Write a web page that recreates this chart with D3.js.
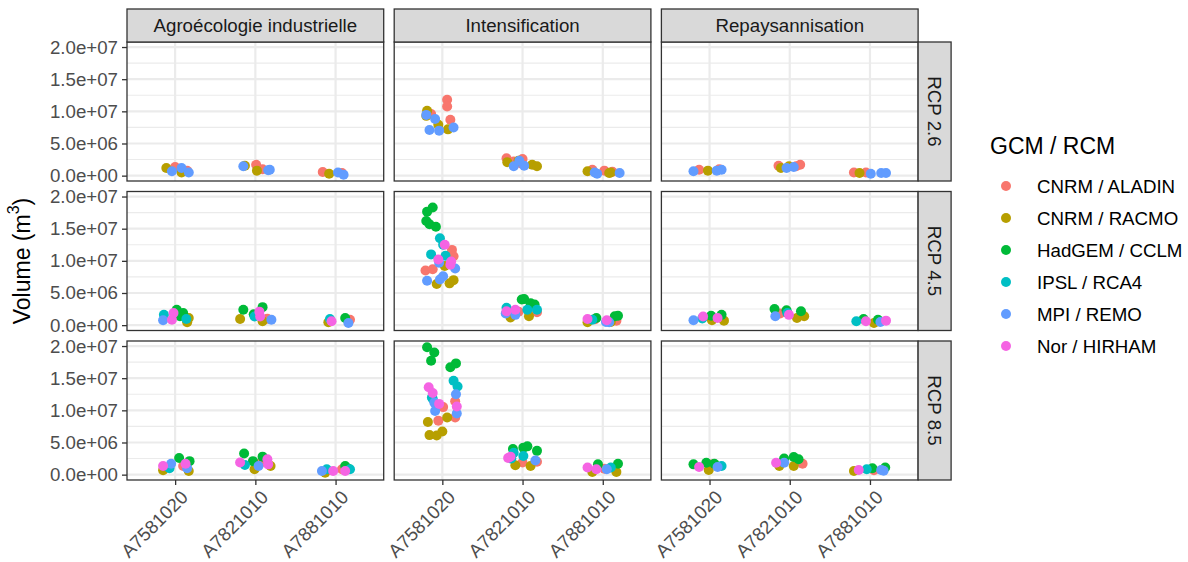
<!DOCTYPE html>
<html>
<head>
<meta charset="utf-8">
<script src="https://cdn.jsdelivr.net/npm/d3@7"></script>
<style>
  body { margin: 0; background: #fff; }
  text { font-family: "Liberation Sans", Arial, sans-serif; }
</style>
</head>
<body>
<svg id="chart"></svg>
<script>
const scenarios = ['Agroécologie industrielle', 'Intensification', 'Repaysannisation'];
const rcps = ['RCP 2.6', 'RCP 4.5', 'RCP 8.5'];
const stations = ['A7581020', 'A7821010', 'A7881010'];
const models = ['CNRM / ALADIN', 'CNRM / RACMO', 'HadGEM / CCLM', 'IPSL / RCA4', 'MPI / REMO', 'Nor / HIRHAM'];
const yTicks = [0, 5e6, 1e7, 1.5e7, 2e7];
const yTickLabels = ['0.0e+00', '5.0e+06', '1.0e+07', '1.5e+07', '2.0e+07'];

// rcp, station, model, jitter (category units), volume (millions of m3)
const agroPoints = [
  [0,0,1,-0.11,1.2],[0,0,1,0.08,0.5],[0,0,0,0.0,1.35],[0,0,0,0.15,0.75],[0,0,4,0.08,1.2],[0,0,4,-0.04,0.67],[0,0,4,0.17,0.5],
  [0,1,0,0.01,1.7],[0,1,0,0.09,1.0],[0,1,1,-0.13,1.55],[0,1,1,0.02,0.78],[0,1,4,-0.15,1.45],[0,1,4,0.18,0.93],[0,1,4,0.16,0.85],
  [0,2,0,-0.16,0.57],[0,2,0,0.08,0.4],[0,2,1,-0.08,0.3],[0,2,4,0.03,0.5],[0,2,4,0.1,0.15],
  [1,0,3,-0.14,1.6],[1,0,3,0.14,0.95],[1,0,2,0.02,2.4],[1,0,2,0.06,1.4],[1,0,2,0.1,1.9],[1,0,5,-0.02,1.9],[1,0,5,-0.04,0.85],
  [1,0,0,0.1,1.5],[1,0,1,0.17,1.1],[1,0,1,0.15,0.44],[1,0,4,-0.15,0.75],
  [1,1,2,-0.15,2.4],[1,1,2,0.09,2.8],[1,1,2,-0.02,1.7],[1,1,1,-0.19,0.95],[1,1,1,0.09,0.6],[1,1,5,0.06,1.35],[1,1,5,0.05,2.1],
  [1,1,0,0.15,1.0],[1,1,4,0.2,0.85],[1,1,3,-0.01,1.35],
  [1,2,1,-0.09,0.44],[1,2,5,-0.05,0.6],[1,2,2,0.12,1.1],[1,2,4,0.16,0.34],[1,2,0,0.18,0.85],[1,2,3,-0.07,0.95],
  [2,0,2,0.05,2.6],[2,0,2,0.18,2.1],[2,0,5,-0.15,1.35],[2,0,5,0.13,1.7],[2,0,4,-0.05,1.7],[2,0,4,0.15,1.0],[2,0,3,-0.07,1.0],
  [2,0,1,-0.15,0.67],[2,0,1,0.17,0.57],[2,0,0,0.1,1.35],
  [2,1,2,-0.14,3.3],[2,1,2,0.09,2.8],[2,1,2,-0.03,2.1],[2,1,3,-0.13,1.5],[2,1,5,-0.19,1.9],[2,1,5,0.15,2.4],[2,1,5,0.16,1.6],
  [2,1,1,-0.01,0.83],[2,1,1,0.19,1.35],[2,1,4,0.04,1.35],[2,1,0,0.07,1.9],
  [2,2,4,-0.17,0.57],[2,2,3,-0.11,0.83],[2,2,1,-0.13,0.3],[2,2,5,-0.03,0.57],[2,2,0,0.08,0.83],[2,2,2,0.16,0.93],
  [2,2,2,0.12,1.35],[2,2,3,0.18,0.83],[2,2,5,0.12,0.57]
];

const intensPoints = [
  [0,0,0,0.06,11.8],[0,0,0,0.06,10.75],[0,0,0,0.1,8.7],[0,0,0,-0.14,9.6],[0,0,1,-0.19,10.1],[0,0,1,-0.2,9.3],[0,0,1,-0.05,7.9],
  [0,0,1,0.07,7.2],[0,0,4,-0.2,9.45],[0,0,4,-0.09,8.8],[0,0,4,-0.16,7.1],[0,0,4,-0.04,7.0],[0,0,4,0.14,7.5],
  [0,1,0,-0.2,2.7],[0,1,0,0.0,2.6],[0,1,0,-0.02,1.9],[0,1,0,-0.11,2.2],[0,1,1,-0.19,2.1],[0,1,1,0.12,1.7],[0,1,1,0.18,1.45],
  [0,1,1,-0.05,2.3],[0,1,4,-0.11,1.45],[0,1,4,0.02,1.55],[0,1,4,-0.04,2.3],
  [0,2,1,-0.19,0.67],[0,2,1,0.08,0.4],[0,2,1,0.1,0.5],[0,2,0,-0.13,0.93],[0,2,0,0.02,0.78],[0,2,0,0.12,0.6],[0,2,4,-0.1,0.5],
  [0,2,4,-0.07,0.3],[0,2,4,0.21,0.4],
  [1,0,0,0.12,11.7],[1,0,0,0.14,10.7],[1,0,0,-0.21,8.5],[1,0,0,-0.12,8.7],
  [1,0,1,0.03,9.2],[1,0,1,-0.07,6.4],[1,0,1,0.09,6.5],[1,0,1,0.14,7.0],
  [1,0,2,-0.12,18.3],[1,0,2,-0.19,17.65],[1,0,2,-0.2,16.2],[1,0,2,-0.16,15.7],[1,0,2,-0.08,15.3],
  [1,0,3,-0.03,13.5],[1,0,3,0.01,12.5],[1,0,3,-0.14,11.0],[1,0,3,0.04,10.8],
  [1,0,4,-0.04,9.7],[1,0,4,0.16,8.8],[1,0,4,-0.19,6.9],[1,0,4,-0.03,7.1],[1,0,4,0.01,7.6],
  [1,0,5,0.03,12.5],[1,0,5,-0.05,10.2],[1,0,5,0.11,9.9],[1,0,5,0.1,9.4],
  [1,1,2,-0.01,4.0],[1,1,2,0.02,4.05],[1,1,2,0.1,3.4],[1,1,2,0.15,3.2],[1,1,3,-0.2,2.7],[1,1,3,0.06,2.4],[1,1,3,0.18,2.4],
  [1,1,5,-0.2,2.15],[1,1,5,-0.09,2.4],[1,1,0,0.18,2.0],[1,1,0,-0.05,2.1],[1,1,4,-0.09,1.6],[1,1,4,-0.21,1.8],
  [1,1,1,-0.15,1.2],[1,1,1,0.08,1.4],
  [1,2,2,-0.08,1.1],[1,2,2,0.15,1.37],[1,2,2,0.19,1.45],[1,2,5,-0.19,0.95],[1,2,5,0.05,0.75],[1,2,1,-0.19,0.44],[1,2,1,0.1,0.5],
  [1,2,4,0.04,0.5],[1,2,4,0.08,0.45],[1,2,0,0.17,0.7],[1,2,0,-0.1,0.9],[1,2,3,-0.13,0.85],
  [2,0,0,0.01,10.5],[2,0,0,0.16,11.4],[2,0,0,-0.05,8.4],[2,0,0,0.16,8.9],
  [2,0,1,-0.18,8.2],[2,0,1,0.06,8.9],[2,0,1,-0.16,6.15],[2,0,1,-0.07,6.1],[2,0,1,0.0,6.7],
  [2,0,2,-0.19,19.8],[2,0,2,-0.1,19.0],[2,0,2,-0.14,17.7],[2,0,2,0.1,16.7],[2,0,2,0.17,17.3],
  [2,0,3,0.14,14.6],[2,0,3,0.19,13.7],[2,0,3,-0.12,11.8],[2,0,3,-0.13,12.0],
  [2,0,4,0.17,12.5],[2,0,4,-0.09,9.9],[2,0,4,0.18,9.5],[2,0,4,-0.1,11.2],
  [2,0,5,-0.17,13.6],[2,0,5,-0.12,12.7],[2,0,5,0.18,10.6],[2,0,5,-0.04,11.0],
  [2,1,2,-0.12,4.0],[2,1,2,0.01,4.2],[2,1,2,0.06,4.4],[2,1,2,0.18,3.7],[2,1,3,-0.11,3.4],[2,1,3,0.01,2.9],[2,1,3,-0.14,2.5],
  [2,1,5,-0.18,2.6],[2,1,5,-0.15,2.8],[2,1,0,0.18,2.0],[2,1,0,0.0,1.9],[2,1,4,0.16,2.2],[2,1,1,-0.09,1.45],[2,1,1,0.1,1.35],
  [2,2,2,-0.06,1.6],[2,2,2,0.19,1.7],[2,2,3,0.1,1.1],[2,2,5,-0.19,1.1],[2,2,5,-0.08,0.85],[2,2,4,0.05,0.83],
  [2,2,1,-0.13,0.4],[2,2,1,0.17,0.4],[2,2,0,0.02,0.93]
];

const repayPoints = [
  [0,0,4,-0.2,0.67],[0,0,4,0.09,0.78],[0,0,4,0.15,0.93],[0,0,0,-0.13,0.93],[0,0,0,0.12,1.0],[0,0,1,-0.02,0.78],
  [0,1,0,-0.14,1.55],[0,1,0,0.08,1.45],[0,1,0,0.13,1.7],[0,1,1,-0.11,1.2],[0,1,1,-0.01,1.45],[0,1,4,-0.04,1.2],[0,1,4,0.05,1.35],
  [0,2,0,-0.2,0.5],[0,2,0,-0.05,0.5],[0,2,1,-0.13,0.4],[0,2,4,0.01,0.3],[0,2,4,0.14,0.4],[0,2,4,0.2,0.4],
  [1,0,4,-0.2,0.75],[1,0,3,-0.09,1.05],[1,0,5,-0.08,1.35],[1,0,5,0.1,1.1],[1,0,2,0.02,1.47],[1,0,2,0.15,1.6],
  [1,0,1,0.03,0.75],[1,0,1,0.18,0.7],
  [1,1,2,-0.19,2.5],[1,1,2,-0.04,2.3],[1,1,2,0.14,2.15],[1,1,5,-0.01,1.6],[1,1,4,-0.18,1.37],[1,1,1,0.09,1.1],
  [1,1,1,0.18,1.37],[1,1,0,-0.12,1.8],[1,1,3,-0.03,1.9],
  [1,2,3,-0.17,0.6],[1,2,5,-0.05,0.6],[1,2,5,0.2,0.7],[1,2,2,-0.08,0.95],[1,2,2,0.1,0.85],[1,2,1,0.05,0.34],[1,2,4,0.13,0.5],
  [2,0,2,-0.2,1.6],[2,0,2,-0.04,1.85],[2,0,2,0.06,1.7],[2,0,5,-0.13,1.2],[2,0,1,-0.01,0.72],[2,0,0,0.04,1.6],
  [2,0,4,0.1,1.2],[2,0,3,0.15,1.35],
  [2,1,5,-0.17,1.85],[2,1,2,-0.07,2.5],[2,1,2,0.05,2.75],[2,1,2,0.11,2.4],[2,1,4,-0.07,1.85],[2,1,1,0.05,1.35],
  [2,1,1,-0.13,1.35],[2,1,0,0.16,1.7],
  [2,2,1,-0.2,0.57],[2,2,5,-0.14,0.72],[2,2,3,-0.04,0.83],[2,2,0,0.05,0.67],[2,2,2,0.03,1.0],[2,2,2,0.19,1.1],
  [2,2,4,0.14,0.72],[2,2,4,0.17,0.6]
];

const W = 1188, H = 562;
const panelLeft = 127, panelTop = 42, pw = 256.7, ph = 139, gap = 10.5, stripSize = 33;
const border = '#333333', gridCol = '#EBEBEB';
const fontSmall = 18.7, fontTitle = 23;

const svg = d3.select('#chart').attr('width', W).attr('height', H);

const panelPoints = [agroPoints, intensPoints, repayPoints];
const [lo, hi] = d3.extent(panelPoints.flat(), d => d[4] * 1e6);
const pad = (hi - lo) * 0.05;

const y = d3.scaleLinear().domain([lo - pad, hi + pad]).range([ph, 0]);
const x = d3.scalePoint().domain(stations).range([0, pw]).padding(0.6);
const color = d3.scaleOrdinal()
  .domain(models)
  .range(['#F8766D', '#B79F00', '#00BA38', '#00BFC4', '#619CFF', '#F564E3']);

const minorTicks = yTicks.slice(1).map((t, i) => (t + yTicks[i]) / 2);

for (let c = 0; c < scenarios.length; c++) {
  for (let r = 0; r < rcps.length; r++) {
    const g = svg.append('g')
      .attr('transform', `translate(${panelLeft + c * (pw + gap)},${panelTop + r * (ph + gap)})`);

    g.append('rect').attr('width', pw).attr('height', ph).attr('fill', '#fff');

    g.selectAll('.minor').data(minorTicks).enter().append('line')
      .attr('x1', 0).attr('x2', pw)
      .attr('y1', d => y(d)).attr('y2', d => y(d))
      .attr('stroke', gridCol).attr('stroke-width', 1.1);

    g.selectAll('.majory').data(yTicks).enter().append('line')
      .attr('x1', 0).attr('x2', pw)
      .attr('y1', d => y(d)).attr('y2', d => y(d))
      .attr('stroke', gridCol).attr('stroke-width', 2.2);

    g.selectAll('.majorx').data(stations).enter().append('line')
      .attr('x1', d => x(d)).attr('x2', d => x(d))
      .attr('y1', 0).attr('y2', ph)
      .attr('stroke', gridCol).attr('stroke-width', 2.2);

    const pts = panelPoints[c].filter(d => d[0] === r).sort((a, b) => a[2] - b[2]);
    g.selectAll('circle').data(pts).enter().append('circle')
      .attr('cx', d => x(stations[d[1]]) + d[3] * x.step())
      .attr('cy', d => y(d[4] * 1e6))
      .attr('r', 5)
      .attr('fill', d => color(models[d[2]]));

    g.append('rect').attr('width', pw).attr('height', ph)
      .attr('fill', 'none').attr('stroke', border).attr('stroke-width', 1.3);

    if (c === 0) {
      const ax = g.append('g').call(d3.axisLeft(y).tickValues(yTicks)
        .tickFormat((d, i) => yTickLabels[i]).tickSize(5).tickPadding(4));
      ax.select('.domain').remove();
      ax.selectAll('line').attr('stroke', border).attr('stroke-width', 1.3);
      ax.selectAll('text').attr('fill', '#4D4D4D').attr('font-size', fontSmall)
        .attr('font-family', '"Liberation Sans", Arial, sans-serif');
    }

    if (r === rcps.length - 1) {
      const ax = g.append('g').attr('transform', `translate(0,${ph})`)
        .call(d3.axisBottom(x).tickSize(5));
      ax.select('.domain').remove();
      ax.selectAll('line').attr('stroke', border).attr('stroke-width', 1.3);
      ax.selectAll('text')
        .attr('fill', '#4D4D4D').attr('font-size', fontSmall)
        .attr('font-family', '"Liberation Sans", Arial, sans-serif')
        .attr('text-anchor', 'end')
        .attr('x', 0).attr('y', 0).attr('dy', '0.72em')
        .attr('transform', 'translate(4,9) rotate(-45)');
    }

    if (r === 0) {
      g.append('rect').attr('y', -stripSize).attr('width', pw).attr('height', stripSize)
        .attr('fill', '#D9D9D9').attr('stroke', border).attr('stroke-width', 1.3);
      g.append('text').attr('x', pw / 2).attr('y', -stripSize / 2)
        .attr('text-anchor', 'middle').attr('dominant-baseline', 'central')
        .attr('font-size', fontSmall).attr('fill', '#1A1A1A')
        .text(scenarios[c]);
    }

    if (c === scenarios.length - 1) {
      g.append('rect').attr('x', pw).attr('width', stripSize).attr('height', ph)
        .attr('fill', '#D9D9D9').attr('stroke', border).attr('stroke-width', 1.3);
      g.append('text')
        .attr('transform', `translate(${pw + stripSize / 2},${ph / 2}) rotate(90)`)
        .attr('text-anchor', 'middle').attr('dominant-baseline', 'central')
        .attr('font-size', fontSmall).attr('fill', '#1A1A1A')
        .text(rcps[r]);
    }
  }
}

// y axis title
const yTitle = svg.append('text')
  .attr('transform', `translate(22,${panelTop + (3 * ph + 2 * gap) / 2}) rotate(-90)`)
  .attr('text-anchor', 'middle').attr('dominant-baseline', 'central')
  .attr('font-size', fontTitle).attr('fill', '#000');
yTitle.append('tspan').text('Volume (m');
yTitle.append('tspan').attr('baseline-shift', 'super').attr('font-size', 16).text('3');
yTitle.append('tspan').text(')');

// legend
const legend = svg.append('g').attr('transform', 'translate(990,146)');
legend.append('text').attr('dominant-baseline', 'central')
  .attr('font-size', fontTitle).attr('fill', '#000').text('GCM / RCM');

const item = legend.selectAll('.item').data(models).enter().append('g')
  .attr('transform', (d, i) => `translate(0,${40 + i * 32})`);
item.append('circle').attr('cx', 16).attr('r', 5).attr('fill', d => color(d));
item.append('text').attr('x', 47).attr('dominant-baseline', 'central')
  .attr('font-size', fontSmall).attr('fill', '#000').text(d => d);
</script>
</body>
</html>
